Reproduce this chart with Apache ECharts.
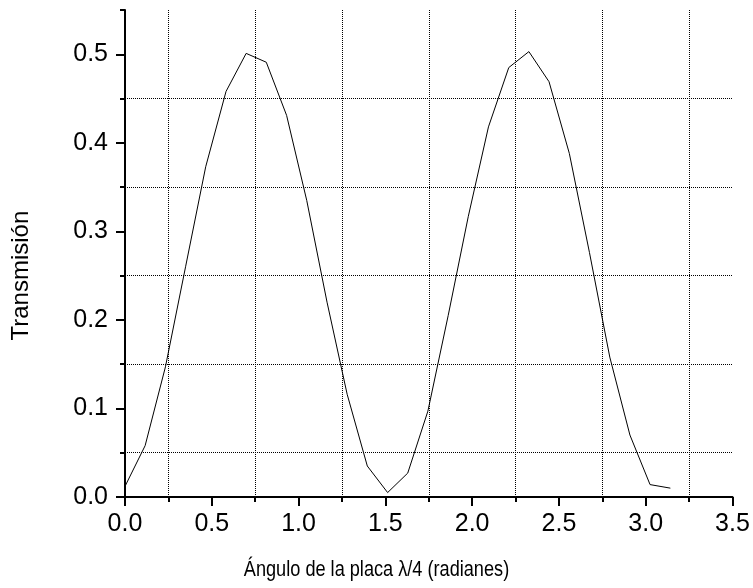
<!DOCTYPE html>
<html>
<head>
<meta charset="utf-8">
<title>Transmisión vs ángulo de la placa</title>
<script src="https://cdn.jsdelivr.net/npm/echarts@6/dist/echarts.min.js"></script>
<style>
  html, body { margin: 0; padding: 0; background: #fff; }
  #chart { width: 753px; height: 588px; }
</style>
</head>
<body>
<div id="chart"></div>
<script>
// Rotation angle of the quarter-wave plate (radians)
const angles = [0.000, 0.116, 0.233, 0.349, 0.465, 0.582, 0.698, 0.814, 0.931, 1.047,
                1.164, 1.280, 1.396, 1.513, 1.629, 1.745, 1.862, 1.978, 2.094, 2.211,
                2.327, 2.443, 2.560, 2.676, 2.793, 2.909, 3.025, 3.142];
// Measured transmission at each angle
const transmission = [0.012, 0.058, 0.147, 0.260, 0.373, 0.458, 0.501, 0.491, 0.431, 0.335,
                      0.220, 0.116, 0.035, 0.005, 0.027, 0.097, 0.205, 0.317, 0.418, 0.485,
                      0.503, 0.469, 0.388, 0.276, 0.158, 0.070, 0.014, 0.010];
// Axis ranges and tick steps
const xTicks = { min: 0, max: 3.5, step: 0.5 };
const yTicks = { min: 0, max: 0.5, step: 0.1 };
const yTop = 0.55;
const yMinorStep = 0.05;

const xTitle = 'Ángulo de la placa λ/4 (radianes)';
const yTitle = 'Transmisión';

const FONT = "'Liberation Sans', Arial, sans-serif";
const points = angles.map((a, i) => [a, transmission[i]]);

const chart = echarts.init(document.getElementById('chart'), null, { renderer: 'canvas' });

const dotted = { color: '#000', width: 1, type: [1, 1] };

chart.setOption({
  animation: false,
  backgroundColor: '#fff',
  // x-axis title, set in a condensed face centred under the page
  graphic: [
    {
      type: 'text',
      x: 376.5, y: 570,
      scaleX: 0.825,
      style: {
        text: xTitle,
        fontFamily: FONT, fontSize: 22,
        fill: '#000',
        align: 'center', verticalAlign: 'middle'
      }
    }
  ],
  grid: [
    { left: 125, right: 20.5, top: 10, bottom: 91, outerBoundsMode: 'none' },
    { left: 125, right: 20.5, top: 54.3, bottom: 91, outerBoundsMode: 'none' }
  ],
  xAxis: [
    {
      gridIndex: 0, type: 'value',
      min: xTicks.min, max: xTicks.max, interval: xTicks.step,
      axisLine: { show: true, onZero: false, lineStyle: { color: '#000', width: 2 } },
      axisTick: { show: true, inside: false, length: 9, lineStyle: { color: '#000', width: 2 } },
      minorTick: { show: true, splitNumber: 2, length: 5, lineStyle: { color: '#000', width: 2 } },
      minorSplitLine: { show: true, lineStyle: dotted },
      splitLine: { show: false },
      axisLabel: {
        show: true, margin: 15, color: '#000', fontFamily: FONT, fontSize: 25,
        formatter: v => v.toFixed(1)
      }
    },
    { gridIndex: 1, type: 'value', min: xTicks.min, max: xTicks.max, show: false }
  ],
  yAxis: [
    {
      // minor ticks and horizontal grid lines at the half steps
      gridIndex: 0, type: 'value',
      min: yTicks.min, max: yTop, interval: yMinorStep,
      axisLine: { show: true, onZero: false, lineStyle: { color: '#000', width: 2 } },
      axisTick: { show: true, inside: false, length: 5, lineStyle: { color: '#000', width: 2 } },
      axisLabel: { show: false },
      splitLine: {
        show: true, showMinLine: true, showMaxLine: false,
        lineStyle: { color: ['rgba(0,0,0,0)', '#000'], width: 1, type: [1, 1] }
      }
    },
    {
      // labelled major ticks
      gridIndex: 1, type: 'value',
      min: yTicks.min, max: yTicks.max, interval: yTicks.step,
      axisLine: { show: false },
      axisTick: { show: true, inside: false, length: 9, lineStyle: { color: '#000', width: 2 } },
      splitLine: { show: false },
      axisLabel: {
        show: true, margin: 17, color: '#000', fontFamily: FONT, fontSize: 25,
        formatter: v => v.toFixed(1)
      },
      name: yTitle,
      nameLocation: 'middle',
      nameRotate: 90,
      nameGap: 92,
      nameTextStyle: { color: '#000', fontFamily: FONT, fontSize: 24 }
    }
  ],
  series: [
    {
      type: 'line',
      xAxisIndex: 0, yAxisIndex: 0,
      data: points,
      symbol: 'none',
      lineStyle: { color: '#000', width: 1 },
      z: 5
    }
  ]
});
</script>
</body>
</html>
